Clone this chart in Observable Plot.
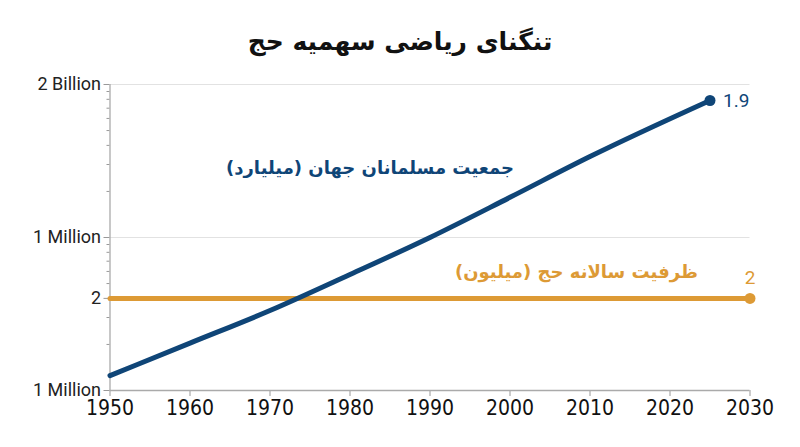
<!DOCTYPE html>
<html>
<head>
<meta charset="utf-8">
<script src="https://cdn.jsdelivr.net/npm/d3@7"></script>
<script src="https://cdn.jsdelivr.net/npm/@observablehq/plot@0.6"></script>
<style>
  html, body { margin: 0; padding: 0; background: #fff; }
  #title { height: 64px; line-height: 84px; text-align: center; font-family: "DejaVu Sans", sans-serif; font-weight: bold; font-size: 25px; color: #111; direction: rtl; }
  #chart svg { display: block; }
</style>
</head>
<body>
<div id="title">تنگنای ریاضی سهمیه حج</div>
<div id="chart"></div>
<script>
// Data (y values are in the chart's log-axis units)
const muslimYears  = [1950, 1960, 1970, 1980, 1990, 2000, 2010, 2025];
const muslimValues = [1.25, 2.04, 3.33, 5.73, 10.0, 18.3, 33.8, 78.6];
const hajjYears  = [1950, 2030];
const hajjValues = [4, 4];
const xTicks = [1950, 1960, 1970, 1980, 1990, 2000, 2010, 2020, 2030];
const yTicks = [1, 4, 10, 100];
const yTickLabels = ["1 Million", "2", "1 Million", "2 Billion"];
const yMinorTicks = [2, 3, 5, 6, 7, 8, 9, 20, 30, 40, 50, 60, 70, 80, 90];
const muslimEndLabel = "1.9";
const hajjEndLabel = "2";
const seriesNames = ["جمعیت مسلمانان جهان (میلیارد)", "ظرفیت سالانه حج (میلیون)"];
const seriesLabelYears = [1982.5, 2008.3];
const seriesLabelValues = [28.4, 5.93];

const blue = "#0f4577";
const gold = "#dd9a35";

const muslim = muslimYears.map((y, i) => ({year: y, value: muslimValues[i]}));
const hajj = hajjYears.map((y, i) => ({year: y, value: hajjValues[i]}));
const muslimLast = muslim[muslim.length - 1];
const hajjLast = hajj[hajj.length - 1];
const labelMap = new Map(yTicks.map((t, i) => [t, yTickLabels[i]]));

const chart = Plot.plot({
  width: 800,
  height: 383,
  marginLeft: 109.5,
  marginRight: 50.5,
  marginTop: 20,
  marginBottom: 57,
  x: {domain: [1950, 2030]},
  y: {type: "log", domain: [1, 100]},
  style: {fontFamily: "Roboto, sans-serif", background: "#fff", color: "#222"},
  marks: [
    Plot.gridY([10, 100], {stroke: "#e2e2e2", strokeOpacity: 1}),
    Plot.axisY(yMinorTicks, {tickSize: 3, tickFormat: () => "", stroke: "#999", label: null}),
    Plot.axisY(yTicks, {tickSize: 6, tickFormat: d => labelMap.get(d), stroke: "#999", label: null}),
    Plot.axisX(xTicks, {tickSize: 6, tickPadding: 4, tickFormat: d => String(d), stroke: "#999", label: null}),
    Plot.ruleX([1950], {stroke: "#aaa", strokeWidth: 1.3}),
    Plot.ruleY([1], {stroke: "#aaa", strokeWidth: 1.3}),
    Plot.line(hajj, {x: "year", y: "value", stroke: gold, strokeWidth: 5}),
    Plot.dot([hajjLast], {x: "year", y: "value", r: 5.5, fill: gold}),
    Plot.line(muslim, {x: "year", y: "value", stroke: blue, strokeWidth: 5, curve: "monotone-x"}),
    Plot.dot([muslimLast], {x: "year", y: "value", r: 5.5, fill: blue}),
    Plot.text([muslimLast], {x: "year", y: "value", text: () => muslimEndLabel, dx: 13, textAnchor: "start", fill: blue, fontSize: 19}),
    Plot.text([hajjLast], {x: "year", y: "value", text: () => hajjEndLabel, dy: -20, fill: gold, fontSize: 19}),
    Plot.text([0], {x: () => seriesLabelYears[0], y: () => seriesLabelValues[0], text: () => seriesNames[0], fill: blue, fontSize: 18, fontWeight: "bold", fontFamily: "'DejaVu Sans', sans-serif"}),
    Plot.text([1], {x: () => seriesLabelYears[1], y: () => seriesLabelValues[1], text: () => seriesNames[1], fill: gold, fontSize: 18, fontWeight: "bold", fontFamily: "'DejaVu Sans', sans-serif"})
  ]
});
const svg = d3.select(chart);
const xLabelSet = new Set(xTicks.map(String));
const yLabelSet = new Set(yTickLabels);
svg.selectAll("text").each(function() {
  const t = this.textContent;
  const sel = d3.select(this);
  const isAnnot = this.parentNode && this.parentNode.getAttribute("aria-label") === "text";
  if (!isAnnot && xLabelSet.has(t)) {
    sel.style("font-size", "21px").style("fill", "#111")
      .style("font-family", "'Liberation Sans Narrow', 'DejaVu Sans Condensed', sans-serif");
  } else if (!isAnnot && yLabelSet.has(t)) {
    sel.style("font-size", "18px").style("fill", "#222");
  }
  if (/[\u0600-\u06FF]/.test(t)) {
    sel.attr("direction", "rtl").style("unicode-bidi", "plaintext");
  }
});
document.getElementById("chart").appendChild(chart);
</script>
</body>
</html>
